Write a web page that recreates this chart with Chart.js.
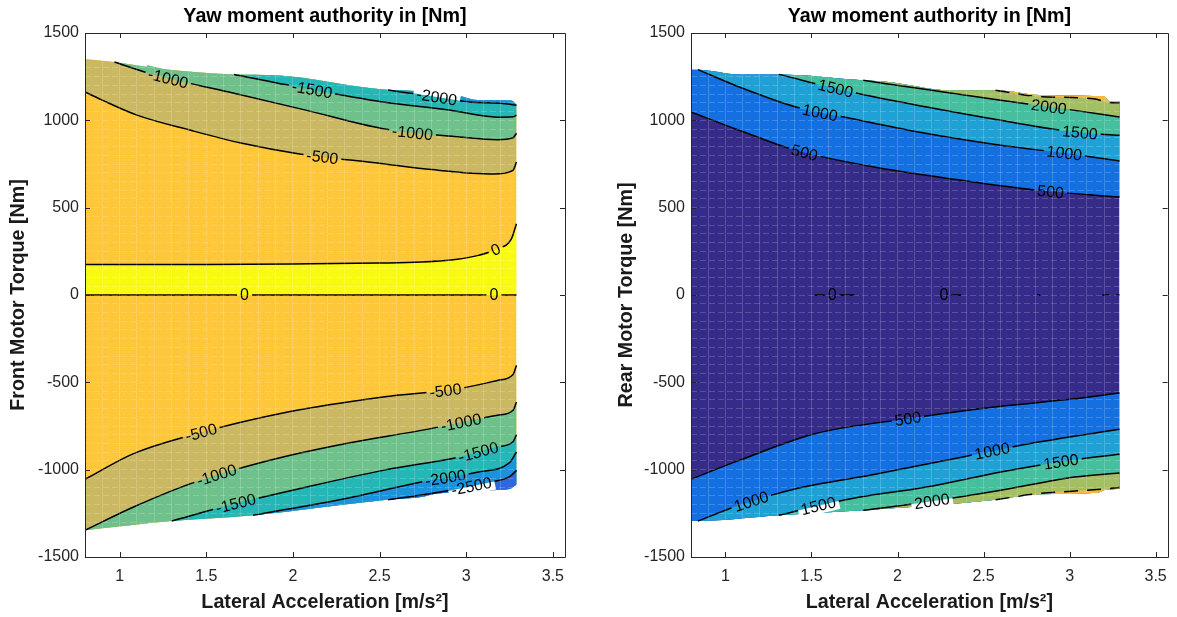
<!DOCTYPE html>
<html>
<head>
<meta charset="utf-8">
<script src="https://cdn.jsdelivr.net/npm/chart.js@4.4.1/dist/chart.umd.min.js"></script>
<style>
  html, body { margin: 0; padding: 0; background: #fff; }
  #wrap { display: flex; width: 1177px; height: 617px; }
  canvas { display: block; }
</style>
</head>
<body>
<div id="wrap">
  <canvas id="front" width="588" height="617"></canvas>
  <canvas id="rear" width="589" height="617"></canvas>
</div>
<script>
// tick labels
const xTicks = [1, 1.5, 2, 2.5, 3, 3.5];
const yTicks = [-1500, -1000, -500, 0, 500, 1000, 1500];

// ---- front motor (left plot), [lateral acc, torque] ----
const frontTop = [[0.8, 1351], [0.97, 1334], [1.2, 1300], [1.66, 1263], [1.9, 1258], [2.52, 1176], [2.7, 1168], [2.96, 1140], [3.07, 1116], [3.26, 1114], [3.29, 1090]];
const frontBottom = [[0.8, -1347], [1.3, -1294], [1.77, -1261], [2.54, -1172], [2.74, -1157], [2.83, -1137], [2.98, -1128], [3.1, -1118], [3.25, -1110], [3.29, -1085]];
const frontZeroUpper = [[0.8, 174], [1.5, 175], [2.0, 178], [2.5, 183], [2.74, 189], [2.95, 205], [3.07, 227], [3.18, 265], [3.26, 320], [3.29, 408]];
const frontZero = [[0.8, 0], [3.29, 0]];
const frontUp500 = [[0.8, 1162], [0.89, 1120], [1.1, 1030], [1.41, 943], [1.7, 870], [2.03, 809], [2.52, 752], [2.8, 718], [3.16, 693], [3.27, 714], [3.29, 761]];
const frontUp1000 = [[0.97, 1334], [1.19, 1263], [1.63, 1162], [2.08, 1057], [2.52, 952], [2.96, 905], [3.18, 889], [3.27, 900], [3.29, 926]];
const frontUp1500 = [[1.66, 1263], [2.08, 1181], [2.52, 1105], [2.9, 1059], [3.18, 1018], [3.27, 1020], [3.29, 1030]];
const frontUp2000 = [[2.55, 1173], [2.8, 1138], [3.02, 1105], [3.2, 1098], [3.29, 1086]];
const frontLow500 = [[0.8, -1055], [1.08, -908], [1.41, -803], [1.97, -670], [2.52, -584], [2.96, -536], [3.18, -489], [3.27, -455], [3.29, -403]];
const frontLow1000 = [[0.8, -1347], [1.08, -1214], [1.41, -1080], [1.86, -947], [2.3, -851], [2.74, -775], [3.18, -689], [3.27, -660], [3.29, -613]];
const frontLow1500 = [[1.3, -1294], [1.63, -1204], [2.08, -1099], [2.52, -1004], [2.96, -927], [3.18, -870], [3.27, -840], [3.29, -800]];
const frontLow2000 = [[1.77, -1261], [2.3, -1166], [2.74, -1071], [3.07, -1013], [3.25, -960], [3.29, -899]];
const frontLow2500 = [[2.55, -1172], [2.85, -1128], [3.14, -1071], [3.25, -1040], [3.29, -1004]];
const frontLabels = [
  ['up1000', 1.28, '-1000'], ['up1500', 2.11, '-1500'], ['up2000', 2.83, '-2000'],
  ['up1000', 2.69, '-1000'], ['up500', 2.17, '-500'], ['zeroUp', 3.17, '0'],
  ['zero', 1.72, '0'], ['zero', 3.16, '0'],
  ['low500', 2.88, '-500'], ['low500', 1.47, '-500'], ['low1000', 2.97, '-1000'],
  ['low1000', 1.56, '-1000'], ['low1500', 3.07, '-1500'], ['low1500', 1.67, '-1500'],
  ['low2000', 2.88, '-2000'], ['low2500', 3.03, '-2500']
];

// ---- rear motor (right plot) ----
const rearTop = [[0.8, 1290], [0.84, 1290], [1.08, 1263], [1.31, 1263], [1.8, 1229], [1.95, 1219], [2.3, 1172], [2.57, 1172], [2.82, 1145], [3.14, 1140], [3.2, 1138], [3.23, 1110], [3.29, 1109]];
const rearBottom = [[0.8, -1294], [0.84, -1294], [1.31, -1261], [1.8, -1233], [2.57, -1172], [2.82, -1141], [3.16, -1132], [3.21, -1115], [3.29, -1111]];
const rearUp500 = [[0.8, 1048], [1.08, 943], [1.41, 828], [1.95, 718], [2.38, 656], [2.82, 599], [3.29, 561]];
const rearUp1000 = [[0.84, 1290], [1.08, 1191], [1.41, 1076], [1.73, 1010], [2.17, 924], [2.6, 857], [3.03, 805], [3.29, 767]];
const rearUp1500 = [[1.31, 1263], [1.73, 1162], [2.17, 1076], [2.6, 1000], [3.03, 933], [3.29, 914]];
const rearUp2000 = [[1.8, 1229], [2.17, 1176], [2.6, 1115], [3.03, 1057], [3.29, 1019]];
const rearUp2500 = [[2.57, 1172], [2.82, 1136], [3.14, 1124], [3.22, 1104], [3.29, 1100]];
const rearLow500 = [[0.8, -1055], [1.08, -947], [1.52, -794], [2.06, -708], [2.6, -637], [3.03, -594], [3.29, -561]];
const rearLow1000 = [[0.84, -1294], [1.08, -1204], [1.41, -1109], [1.84, -1032], [2.38, -927], [2.82, -842], [3.29, -769]];
const rearLow1500 = [[1.31, -1261], [1.73, -1166], [2.17, -1099], [2.6, -1013], [3.03, -943], [3.29, -912]];
const rearLow2000 = [[1.8, -1233], [2.17, -1185], [2.6, -1118], [3.03, -1042], [3.29, -1019]];
const rearLow2500 = [[2.57, -1172], [2.82, -1137], [3.16, -1114], [3.29, -1102]];
const rearZero = [[1.52, 0], [1.75, 0], [2.0, null], [2.23, 0], [2.37, 0], [2.6, null], [2.81, 0], [2.83, 0], [3.0, null], [3.19, 0], [3.23, 0], [3.25, null], [3.27, 0], [3.29, 0]];
const rearLabels = [
  ['up1500', 1.64, '1500'], ['up1000', 1.55, '1000'], ['up500', 1.46, '500'],
  ['up2000', 2.88, '2000'], ['up1500', 3.06, '1500'], ['up1000', 2.97, '1000'], ['up500', 2.89, '500'],
  ['low500', 2.06, '500'], ['low1000', 2.55, '1000'], ['low1500', 2.95, '1500'],
  ['low1000', 1.15, '1000'], ['low1500', 1.54, '1500'], ['low2000', 2.2, '2000'],
  ['zero', 1.62, '0'], ['zero', 2.27, '0']
];

const FONT = "'Liberation Sans', Arial, Helvetica, sans-serif";
const MESH = 'rgba(255,255,255,0.18)';

// mesh lines of the surface (grid only, no labels)
const meshX = [];
for (let k = 0; k <= 27; k++) meshX.push(Math.round((0.8 + k * 0.1) * 10) / 10);
const meshY = [];
for (let v = -1500; v <= 1500; v += 50) meshY.push(v);

function labelFor(list, v) {
  const hit = list.find(t => Math.abs(t - v) < 1e-6);
  return hit === undefined ? '' : String(hit);
}

// contour labels: sits on the line, line hidden behind it
const contourLabels = {
  id: 'contourLabels',
  afterDatasetsDraw(chart, args, opts) {
    const ctx = chart.ctx;
    const xs = chart.scales.x;
    ctx.save();
    ctx.font = '16px ' + FONT;
    const items = [];
    opts.items.forEach(([idx, xv, text]) => {
      const line = chart.getDatasetMeta(idx).dataset;
      const px = xs.getPixelForValue(xv);
      const p = line.interpolate({x: px}, 'x');
      if (!p) return;
      const a = line.interpolate({x: px - 4}, 'x') || p;
      const b = line.interpolate({x: px + 4}, 'x') || p;
      const ang = Math.atan2(b.y - a.y, b.x - a.x);
      const nx = -Math.sin(ang), ny = Math.cos(ang);
      const pick = (sign) => {
        for (const d of [9, 7, 11, 5, 13]) {
          const c = ctx.getImageData(Math.round(p.x + nx * d * sign), Math.round(p.y + ny * d * sign), 1, 1).data;
          if (c[3] < 128) return '#ffffff';
          if (c[0] + c[1] + c[2] > 120) return `rgb(${c[0]},${c[1]},${c[2]})`;
        }
        return '#ffffff';
      };
      items.push({p, ang, text, up: pick(-1), down: pick(1)});
    });
    items.forEach(it => {
      const w = ctx.measureText(it.text).width + 6;
      const h = 16;
      ctx.save();
      ctx.translate(it.p.x, it.p.y);
      ctx.rotate(it.ang);
      ctx.fillStyle = it.up;
      ctx.fillRect(-w / 2, -h / 2, w, h / 2 + 0.5);
      ctx.fillStyle = it.down;
      ctx.fillRect(-w / 2, 0, w, h / 2);
      ctx.fillStyle = '#000';
      ctx.textAlign = 'center';
      ctx.textBaseline = 'middle';
      ctx.fillText(it.text, 0, 1);
      ctx.restore();
    });
    ctx.restore();
  }
};

// MATLAB style box with inward ticks on all four sides
const axesFrame = {
  id: 'axesFrame',
  afterDraw(chart) {
    const {ctx, chartArea: a, scales: {x, y}} = chart;
    ctx.save();
    ctx.strokeStyle = '#262626';
    ctx.lineWidth = 1;
    ctx.beginPath();
    xTicks.forEach(v => {
      const px = Math.round(x.getPixelForValue(v)) + 0.5;
      ctx.moveTo(px, a.bottom); ctx.lineTo(px, a.bottom - 5);
      ctx.moveTo(px, a.top); ctx.lineTo(px, a.top + 5);
    });
    yTicks.forEach(v => {
      const py = Math.round(y.getPixelForValue(v)) + 0.5;
      ctx.moveTo(a.left, py); ctx.lineTo(a.left + 5, py);
      ctx.moveTo(a.right, py); ctx.lineTo(a.right - 5, py);
    });
    ctx.rect(Math.round(a.left) + 0.5, Math.round(a.top) + 0.5, Math.round(a.right - a.left), Math.round(a.bottom - a.top));
    ctx.stroke();
    ctx.restore();
  }
};

function makeChart(id, o) {
  const index = {};
  o.layers.forEach((l, i) => { index[l.name] = i; });
  const n = o.layers.length;
  const datasets = o.layers.map((l, i) => ({
    data: l.pts.map(([x, y]) => ({x, y})),
    showLine: true,
    pointRadius: 0,
    borderWidth: l.stroke ? 1.5 : 0,
    borderColor: l.stroke ? '#000' : 'rgba(0,0,0,0)',
    borderDash: l.stroke === 'dash' ? [14, 9] : [],
    backgroundColor: l.color || 'rgba(0,0,0,0)',
    fill: l.to ? {target: index[l.to]} : false,
    cubicInterpolationMode: 'monotone',
    order: n - i
  }));
  const bold = {family: FONT, size: 19.7, weight: 'bold'};
  return new Chart(document.getElementById(id), {
    type: 'scatter',
    data: {datasets},
    options: {
      responsive: false,
      animation: false,
      events: [],
      layout: {padding: {left: 0, right: o.padRight, top: 0, bottom: 0}},
      plugins: {
        legend: {display: false},
        tooltip: {enabled: false},
        filler: {drawTime: 'beforeDatasetsDraw', propagate: false},
        title: {
          display: true, text: 'Yaw moment authority in [Nm]', fullSize: false,
          color: '#000', font: bold, padding: {top: 4.5, bottom: 4.86}
        },
        contourLabels: {items: o.labels.map(([name, x, t]) => [index[name], x, t])}
      },
      scales: {
        x: {
          type: 'linear', min: 0.8, max: 3.57,
          afterFit: s => { s.height = 60; },
          afterBuildTicks: s => { s.ticks = meshX.map(v => ({value: v})); },
          ticks: {
            autoSkip: false, maxRotation: 0, padding: 10, color: '#262626',
            font: {family: FONT, size: 16}, callback: v => labelFor(xTicks, v)
          },
          grid: {color: MESH, drawTicks: false, z: 1},
          border: {display: false},
          title: {display: true, text: 'Lateral Acceleration [m/s²]', color: '#1a1a1a', font: bold, padding: {top: 2.5, bottom: 2.5}}
        },
        y: {
          type: 'linear', min: -1500, max: 1500,
          afterFit: s => { s.width = o.yWidth; },
          afterBuildTicks: s => { s.ticks = meshY.map(v => ({value: v})); },
          ticks: {
            autoSkip: false, padding: 6, color: '#262626',
            font: {family: FONT, size: 16}, callback: v => labelFor(yTicks, v)
          },
          grid: {color: MESH, drawTicks: false, z: 1},
          border: {display: false, dash: [6, 3]},
          title: {display: true, text: o.yTitle, color: '#1a1a1a', font: bold, padding: {top: o.yTitlePad, bottom: 0}}
        }
      }
    },
    plugins: [contourLabels, axesFrame]
  });
}

makeChart('front', {
  yWidth: 85, padRight: 23, yTitlePad: 6.5,
  yTitle: 'Front Motor Torque [Nm]',
  labels: frontLabels,
  layers: [
    {name: 'bottom', pts: frontBottom},
    {name: 'top', pts: frontTop, color: '#fdc739', to: 'bottom'},
    {name: 'zeroUp', pts: frontZeroUpper, color: '#f9fa14', to: 'zero', stroke: true},
    {name: 'zero', pts: frontZero, stroke: true},
    {name: 'up500', pts: frontUp500, color: '#cbb862', to: 'top', stroke: true},
    {name: 'up1000', pts: frontUp1000, color: '#6fc18c', to: 'top', stroke: true},
    {name: 'up1500', pts: frontUp1500, color: '#25b6b6', to: 'top', stroke: true},
    {name: 'up2000', pts: frontUp2000, color: '#1b93dc', to: 'top', stroke: true},
    {name: 'low500', pts: frontLow500, color: '#cbb862', to: 'bottom', stroke: true},
    {name: 'low1000', pts: frontLow1000, color: '#6fc18c', to: 'bottom', stroke: true},
    {name: 'low1500', pts: frontLow1500, color: '#25b6b6', to: 'bottom', stroke: true},
    {name: 'low2000', pts: frontLow2000, color: '#1b93dc', to: 'bottom', stroke: true},
    {name: 'low2500', pts: frontLow2500, color: '#2f67de', to: 'bottom', stroke: true}
  ]
});

makeChart('rear', {
  yWidth: 103, padRight: 6, yTitlePad: 26.5,
  yTitle: 'Rear Motor Torque [Nm]',
  labels: rearLabels,
  layers: [
    {name: 'bottom', pts: rearBottom},
    {name: 'top', pts: rearTop, color: '#352b88', to: 'bottom'},
    {name: 'up500', pts: rearUp500, color: '#1470e0', to: 'top', stroke: true},
    {name: 'up1000', pts: rearUp1000, color: '#1fa1d5', to: 'top', stroke: true},
    {name: 'up1500', pts: rearUp1500, color: '#45bf9e', to: 'top', stroke: true},
    {name: 'up2000', pts: rearUp2000, color: '#a3bf62', to: 'top', stroke: true},
    {name: 'up2500', pts: rearUp2500, color: '#f9b93c', to: 'top', stroke: 'dash'},
    {name: 'low500', pts: rearLow500, color: '#1470e0', to: 'bottom', stroke: true},
    {name: 'low1000', pts: rearLow1000, color: '#1fa1d5', to: 'bottom', stroke: true},
    {name: 'low1500', pts: rearLow1500, color: '#45bf9e', to: 'bottom', stroke: true},
    {name: 'low2000', pts: rearLow2000, color: '#a3bf62', to: 'bottom', stroke: true},
    {name: 'low2500', pts: rearLow2500, color: '#f9b93c', to: 'bottom', stroke: 'dash'},
    {name: 'zero', pts: rearZero, stroke: true}
  ]
});
</script>
</body>
</html>
